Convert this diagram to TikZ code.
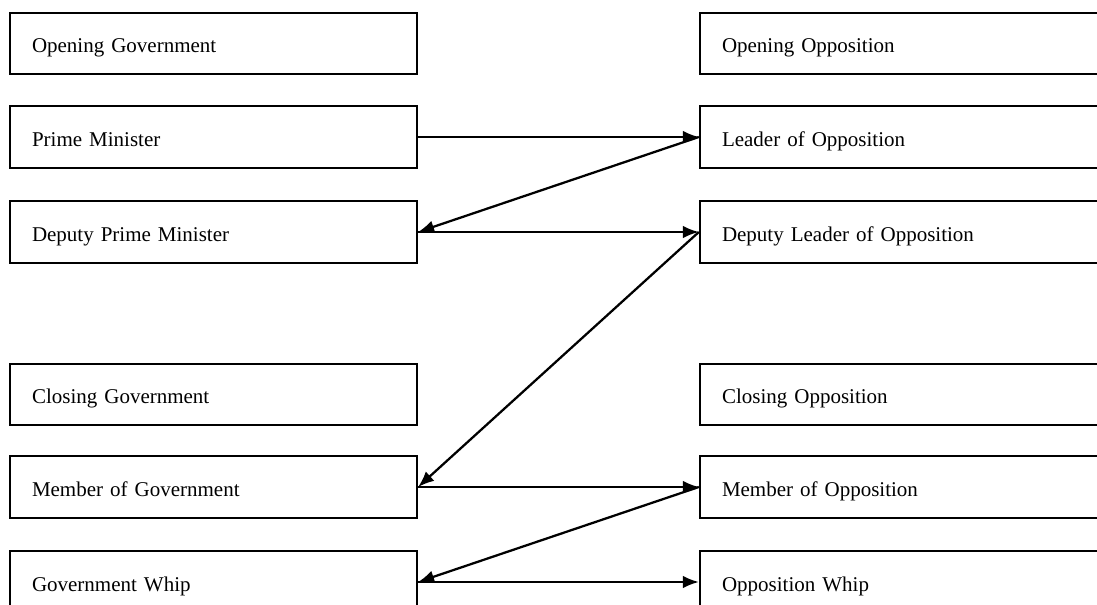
\documentclass[tikz,border=0pt]{standalone}
\usepackage{fontspec}
\setmainfont{Liberation Serif}
\usetikzlibrary{arrows.meta}
\begin{document}
\begin{tikzpicture}[x=0.75pt, y=-0.75pt,
    side/.style={draw, line width=1.7pt, rectangle, minimum width=305.25pt,
      minimum height=46pt, text width=272.25pt, align=left, inner xsep=16.5pt,
      text height=14.25pt, text depth=0pt, font=\fontsize{15.75}{18}\selectfont},
    link/.style={line width=1.7pt, -{Latex[length=12pt, width=9.5pt]}}]
    \clip (0, 0) rectangle (1097, 605);
    % government side
    \node[side] (og) at (213.5, 43.5) {Opening Government};
    \node[side] (pm) at (213.5, 137) {Prime Minister};
    \node[side] (dpm) at (213.5, 232) {Deputy Prime Minister};
    \node[side] (cg) at (213.5, 394.5) {Closing Government};
    \node[side] (mg) at (213.5, 487) {Member of Government};
    \node[side] (gw) at (213.5, 582) {Government Whip};
    % opposition side
    \node[side] (oo) at (903.5, 43.5) {Opening Opposition};
    \node[side] (lo) at (903.5, 137) {Leader of Opposition};
    \node[side] (dlo) at (903.5, 232) {Deputy Leader of Opposition};
    \node[side] (co) at (903.5, 394.5) {Closing Opposition};
    \node[side] (mo) at (903.5, 487) {Member of Opposition};
    \node[side] (ow) at (903.5, 582) {Opposition Whip};
    % speaking order
    \draw[link] (pm.east) -- (lo.west);
    \draw[link] (lo.west) -- (dpm.east);
    \draw[link] (dpm.east) -- (dlo.west);
    \draw[link] (dlo.west) -- (mg.east);
    \draw[link] (mg.east) -- (mo.west);
    \draw[link] (mo.west) -- (gw.east);
    \draw[link] (gw.east) -- (ow.west);
  \end{tikzpicture}
\end{document}
